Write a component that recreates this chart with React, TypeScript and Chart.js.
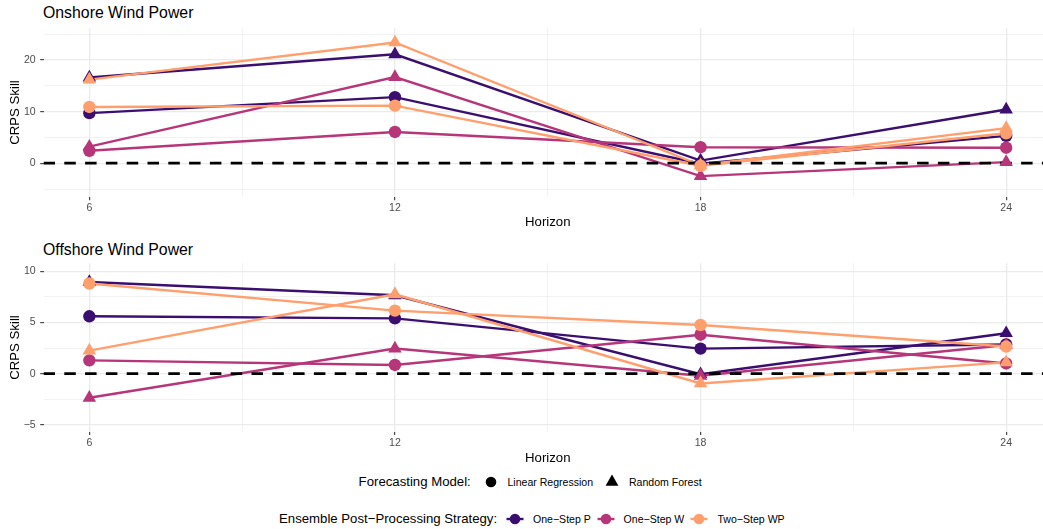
import React, { useEffect, useRef } from 'react';
import { Chart, registerables } from 'chart.js';

Chart.register(...registerables);

const FONT = '"Liberation Sans", Arial, Helvetica, sans-serif';

// ---------- data ----------
const horizons = [6, 12, 18, 24];
const xGridValues = [6, 9, 12, 15, 18, 21, 24];
const xLabelValues = [6, 12, 18, 24];

const strategies = ['One\u2212Step P', 'One\u2212Step W', 'Two\u2212Step WP'];
const strategyColors = ['#3B0F70', '#B63679', '#FE9F6D'];
const models = ['Linear Regression', 'Random Forest'];
const modelShapes = ['circle', 'triangle'];

// Onshore Wind Power (CRPS skill by horizon)
const onshoreOneStepP_LR = [9.7, 12.8, -0.1, 5.3];
const onshoreOneStepP_RF = [16.6, 21.1, 0.5, 10.4];
const onshoreOneStepW_LR = [2.4, 6.05, 3.1, 3.0];
const onshoreOneStepW_RF = [3.2, 16.7, -2.5, 0.2];
const onshoreTwoStepWP_LR = [10.9, 11.15, -0.5, 5.8];
const onshoreTwoStepWP_RF = [16.2, 23.4, -0.4, 6.8];

// Offshore Wind Power
const offshoreOneStepP_LR = [5.6, 5.4, 2.45, 2.85];
const offshoreOneStepP_RF = [8.95, 7.65, -0.05, 3.95];
const offshoreOneStepW_LR = [1.3, 0.85, 3.8, 1.0];
const offshoreOneStepW_RF = [-2.35, 2.45, -0.2, 2.8];
const offshoreTwoStepWP_LR = [8.8, 6.15, 4.75, 2.65];
const offshoreTwoStepWP_RF = [2.25, 7.75, -0.95, 1.1];

const onshoreYGrid = [-5, 0, 5, 10, 15, 20, 25];
const onshoreYLabels = [0, 10, 20];
const offshoreYGrid = [-5, -2.5, 0, 2.5, 5, 7.5, 10];
const offshoreYLabels = [-5, 0, 5, 10];

const referenceLine = 0;

type Series = { s: number; m: number; values: number[] };

const onshoreSeries: Series[] = [
  { s: 0, m: 0, values: onshoreOneStepP_LR },
  { s: 0, m: 1, values: onshoreOneStepP_RF },
  { s: 1, m: 0, values: onshoreOneStepW_LR },
  { s: 1, m: 1, values: onshoreOneStepW_RF },
  { s: 2, m: 0, values: onshoreTwoStepWP_LR },
  { s: 2, m: 1, values: onshoreTwoStepWP_RF },
];
const offshoreSeries: Series[] = [
  { s: 0, m: 0, values: offshoreOneStepP_LR },
  { s: 0, m: 1, values: offshoreOneStepP_RF },
  { s: 1, m: 0, values: offshoreOneStepW_LR },
  { s: 1, m: 1, values: offshoreOneStepW_RF },
  { s: 2, m: 0, values: offshoreTwoStepWP_LR },
  { s: 2, m: 1, values: offshoreTwoStepWP_RF },
];

const X_MIN = 5.1;
const X_MAX = 24.9;
const CANVAS_W = 1052;

const fmt = (v: number) => (v < 0 ? '\u2212' + Math.abs(v) : String(v));

type PanelProps = {
  title: string;
  series: Series[];
  yMin: number;
  yMax: number;
  yGrid: number[];
  yLabels: number[];
  top: number;
  height: number;
  areaTop: number;
  axisHeight: number;
  titleTop: number;
};

function Panel(props: PanelProps) {
  const ref = useRef<HTMLCanvasElement | null>(null);
  useEffect(() => {
    if (!ref.current) return;
    const datasets: any[] = [];
    props.series.forEach(({ s, m, values }) => {
      const data = horizons.map((h, i) => ({ x: h, y: values[i] }));
      datasets.push({
        type: 'line',
        data,
        borderColor: strategyColors[s],
        borderWidth: 2.4,
        pointRadius: 0,
        fill: false,
        tension: 0,
        order: 20 - s,
      });
      datasets.push({
        type: 'line',
        data,
        showLine: false,
        pointStyle: modelShapes[m],
        pointRadius: m === 0 ? 6.2 : 7.8,
        pointBackgroundColor: strategyColors[s],
        pointBorderColor: strategyColors[s],
        pointBorderWidth: 0,
        order: 3 - s,
      });
    });
    datasets.push({
      type: 'line',
      data: [
        { x: X_MIN, y: referenceLine },
        { x: X_MAX, y: referenceLine },
      ],
      borderColor: '#000000',
      borderWidth: 2.8,
      borderDash: [11.5, 9.3],
      pointRadius: 0,
      fill: false,
      order: 10,
    });

    const isMajorX = (v: number) => xLabelValues.includes(v);
    const isMajorY = (v: number) => props.yLabels.includes(v);

    const chart = new Chart(ref.current, {
      type: 'line',
      data: { datasets },
      options: {
        responsive: false,
        maintainAspectRatio: false,
        animation: false,
        events: [],
        layout: {
          autoPadding: false,
          padding: { top: props.areaTop, left: 0, right: 0, bottom: 0 },
        },
        plugins: {
          legend: { display: false },
          tooltip: { enabled: false },
          title: { display: false },
        },
        scales: {
          x: {
            type: 'linear',
            min: X_MIN,
            max: X_MAX,
            afterBuildTicks: (sc: any) => {
              sc.ticks = xGridValues.map((v) => ({ value: v }));
            },
            afterFit: (sc: any) => {
              sc.height = props.axisHeight;
            },
            ticks: {
              autoSkip: false,
              maxRotation: 0,
              padding: 1.5,
              color: '#4D4D4D',
              font: { family: FONT, size: 10.56 },
              callback: (v: any) => (isMajorX(Number(v)) ? fmt(Number(v)) : ''),
            },
            grid: {
              color: '#EBEBEB',
              lineWidth: (c: any) => (c.tick && isMajorX(c.tick.value) ? 1.3 : 0.65),
              drawTicks: true,
              tickLength: 3.3,
              tickWidth: 1.07,
              tickColor: (c: any) =>
                c.tick && isMajorX(c.tick.value) ? '#333333' : 'rgba(0,0,0,0)',
            },
            border: { display: false },
            title: {
              display: true,
              text: 'Horizon',
              color: '#000000',
              font: { family: FONT, size: 13.2 },
              padding: { top: 0, bottom: 0 },
            },
          },
          y: {
            type: 'linear',
            min: props.yMin,
            max: props.yMax,
            afterBuildTicks: (sc: any) => {
              sc.ticks = props.yGrid.map((v) => ({ value: v }));
            },
            afterFit: (sc: any) => {
              sc.width = 43.5;
            },
            ticks: {
              autoSkip: false,
              padding: 4.5,
              color: '#4D4D4D',
              font: { family: FONT, size: 10.56 },
              callback: (v: any) => (isMajorY(Number(v)) ? fmt(Number(v)) : ''),
            },
            grid: {
              color: '#EBEBEB',
              lineWidth: (c: any) => (c.tick && isMajorY(c.tick.value) ? 1.3 : 0.65),
              drawTicks: true,
              tickLength: 3.3,
              tickWidth: 1.07,
              tickColor: (c: any) =>
                c.tick && isMajorY(c.tick.value) ? '#333333' : 'rgba(0,0,0,0)',
            },
            border: { display: false },
            title: {
              display: true,
              text: 'CRPS Skill',
              color: '#000000',
              font: { family: FONT, size: 13.2 },
              padding: { top: 7, bottom: 0 },
            },
          },
        },
      } as any,
    });
    return () => chart.destroy();
  }, []);

  return (
    <>
      <div
        style={{
          position: 'absolute',
          left: 43,
          top: props.titleTop,
          fontFamily: FONT,
          fontSize: 15.84,
          lineHeight: '19px',
          color: '#000',
          whiteSpace: 'nowrap',
        }}
      >
        {props.title}
      </div>
      <div
        style={{
          position: 'absolute',
          left: 0,
          top: props.top,
          width: CANVAS_W,
          height: props.height,
        }}
      >
        <canvas
          ref={ref}
          width={CANVAS_W}
          height={props.height}
          style={{ width: CANVAS_W, height: props.height, display: 'block' }}
        />
      </div>
    </>
  );
}

function Txt(p: { x: number; cy: number; size: number; children: any }) {
  return (
    <div
      style={{
        position: 'absolute',
        left: p.x,
        top: p.cy - 9,
        height: 18,
        lineHeight: '18px',
        fontFamily: FONT,
        fontSize: p.size,
        color: '#000',
        whiteSpace: 'nowrap',
      }}
    >
      {p.children}
    </div>
  );
}

function ShapeKey(p: { cx: number; cy: number; shape: string; color: string; line?: boolean }) {
  const w = 22;
  const h = 18;
  return (
    <svg
      width={w}
      height={h}
      style={{ position: 'absolute', left: p.cx - w / 2, top: p.cy - h / 2 }}
    >
      {p.line ? (
        <line x1={2.5} y1={h / 2} x2={w - 2.5} y2={h / 2} stroke={p.color} strokeWidth={2.4} />
      ) : null}
      {p.shape === 'circle' ? (
        <circle cx={w / 2} cy={h / 2} r={5.3} fill={p.color} />
      ) : (
        <polygon
          points={`${w / 2},${h / 2 - 7.4} ${w / 2 + 6.4},${h / 2 + 3.7} ${w / 2 - 6.4},${h / 2 + 3.7}`}
          fill={p.color}
        />
      )}
    </svg>
  );
}

export default function App() {
  const row1 = 482;
  const row2 = 519;
  return (
    <div
      style={{
        position: 'absolute',
        left: 0,
        top: 0,
        width: 1043,
        height: 529,
        overflow: 'hidden',
        background: '#ffffff',
      }}
    >
      <Panel
        title="Onshore Wind Power"
        series={onshoreSeries}
        yMin={-6.55}
        yMax={26.2}
        yGrid={onshoreYGrid}
        yLabels={onshoreYLabels}
        top={0}
        height={230}
        areaTop={28}
        axisHeight={33}
        titleTop={2.5}
      />
      <Panel
        title="Offshore Wind Power"
        series={offshoreSeries}
        yMin={-5.66}
        yMax={10.77}
        yGrid={offshoreYGrid}
        yLabels={offshoreYLabels}
        top={230}
        height={236}
        areaTop={33.3}
        axisHeight={34.3}
        titleTop={239.5}
      />
      <Txt x={358.6} cy={row1} size={13.2}>Forecasting Model:</Txt>
      <ShapeKey cx={490.7} cy={row1} shape={modelShapes[0]} color="#000000" />
      <Txt x={507.5} cy={row1} size={10.56}>{models[0]}</Txt>
      <ShapeKey cx={611.8} cy={row1} shape={modelShapes[1]} color="#000000" />
      <Txt x={629} cy={row1} size={10.56}>{models[1]}</Txt>

      <Txt x={279} cy={row2} size={13.2}>Ensemble Post{'\u2212'}Processing Strategy:</Txt>
      <ShapeKey cx={514.6} cy={row2} shape="circle" color={strategyColors[0]} line />
      <Txt x={533} cy={row2} size={10.56}>{strategies[0]}</Txt>
      <ShapeKey cx={605.7} cy={row2} shape="circle" color={strategyColors[1]} line />
      <Txt x={623.6} cy={row2} size={10.56}>{strategies[1]}</Txt>
      <ShapeKey cx={698.6} cy={row2} shape="circle" color={strategyColors[2]} line />
      <Txt x={717.5} cy={row2} size={10.56}>{strategies[2]}</Txt>
    </div>
  );
}
